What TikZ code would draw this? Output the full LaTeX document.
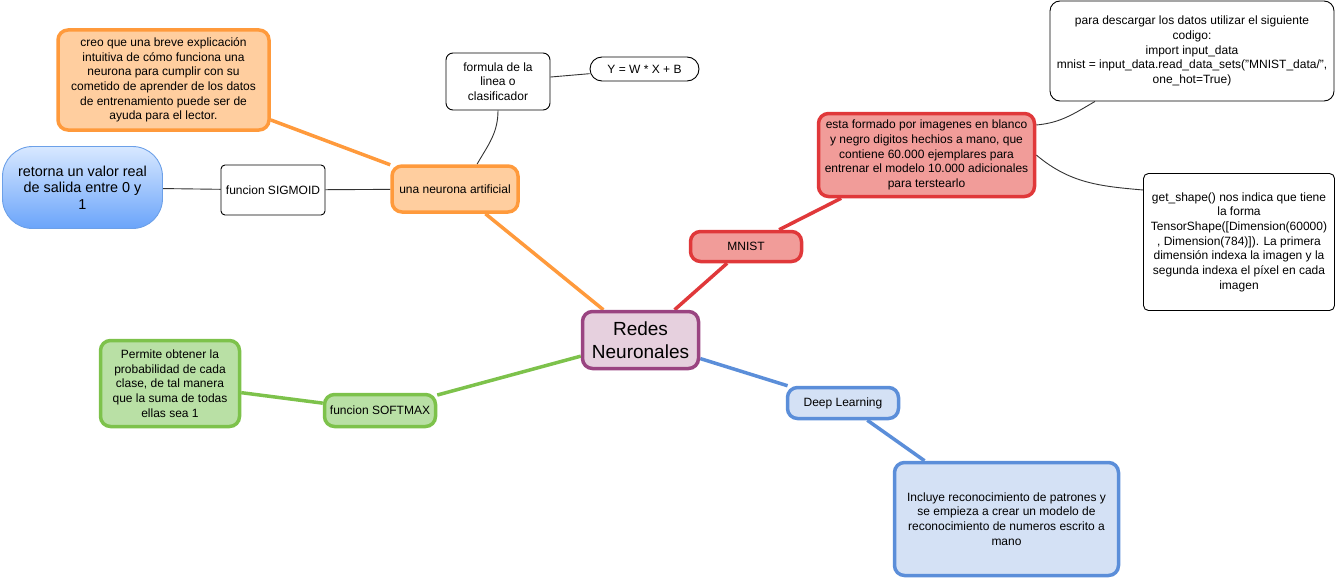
\documentclass[tikz,border=0pt]{standalone}
\usepackage{fontspec}
\setmainfont{Liberation Sans}
\definecolor{orfill}{HTML}{FFCE9F}
\definecolor{ordraw}{HTML}{FF9A3C}
\definecolor{rdfill}{HTML}{F19C99}
\definecolor{rddraw}{HTML}{E0383A}
\definecolor{pufill}{HTML}{E6D0DE}
\definecolor{pudraw}{HTML}{9A4481}
\definecolor{grfill}{HTML}{B9E0A5}
\definecolor{grdraw}{HTML}{7DC24B}
\definecolor{blfill}{HTML}{D4E1F5}
\definecolor{bldraw}{HTML}{5B8ED9}
\definecolor{gtop}{HTML}{D8E8FF}
\definecolor{gbot}{HTML}{6AA4FA}
\definecolor{gdraw}{HTML}{6CA0E8}
\definecolor{thin}{HTML}{333333}
\pgfdeclarelayer{background}
\pgfsetlayers{background,main}
\tikzset{
  base/.style={align=center, inner sep=1pt, text=black, font=\fontsize{12}{14.7}\selectfont},
  colbox/.style={base, line width=3.5pt, rounded corners=10pt},
  orbox/.style={colbox, draw=ordraw, fill=orfill},
  rdbox/.style={colbox, draw=rddraw, fill=rdfill},
  grbox/.style={colbox, draw=grdraw, fill=grfill},
  blbox/.style={colbox, draw=bldraw, fill=blfill},
  thinbox/.style={base, draw=black, line width=0.9pt, rounded corners=7pt, fill=white},
  sz/.style 2 args={minimum width=#1pt, minimum height=#2pt},
  orline/.style={draw=ordraw, line width=3.5pt},
  rdline/.style={draw=rddraw, line width=3.5pt},
  grline/.style={draw=grdraw, line width=3.5pt},
  blline/.style={draw=bldraw, line width=3.5pt},
  thinline/.style={draw=thin, line width=0.9pt},
}
\begin{document}
\begin{tikzpicture}[x=1pt,y=1pt]
\useasboundingbox (0,0) rectangle (1336,-578);

% central
\node[colbox, draw=pudraw, fill=pufill, sz={116}{57}, font=\fontsize{19}{23}\selectfont] (redes) at (640.5,-340) {Redes\\Neuronales};

% orange branch
\node[orbox, sz={126}{46}] (neurona) at (455,-189) {una neurona artificial};
\node[orbox, sz={211}{100}] (creo) at (163.5,-80) {creo que una breve explicación\\intuitiva de cómo funciona una\\neurona para cumplir con su\\cometido de aprender de los datos\\de entrenamiento puede ser de\\ayuda para el lector.};
\node[thinbox, sz={104}{50}, rounded corners=4pt] (sigmoid) at (273,-190) {funcion SIGMOID};
\node[base, draw=gdraw, line width=0.9pt, top color=gtop, bottom color=gbot, rounded corners=30pt, sz={160}{82}, font=\fontsize{14.4}{16.6}\selectfont] (retorna) at (82.5,-187.5) {retorna un valor real\\de salida entre 0 y\\1};
\node[thinbox, sz={104}{57}] (formula) at (498,-81.5) {formula de la\\linea o\\clasificador};
\node[thinbox, sz={109}{24}, rounded corners=12pt] (ecuacion) at (644.5,-69) {Y = W * X + B};

% red branch
\node[rdbox, sz={111}{30}] (mnist) at (746,-246.5) {MNIST};
\node[rdbox, sz={216}{83}] (esta) at (926.5,-155) {esta formado por imagenes en blanco\\y negro digitos hechios a mano, que\\contiene 60.000 ejemplares para\\entrenar el modelo 10.000 adicionales\\para terstearlo};
\node[thinbox, sz={284}{100}, rounded corners=10pt] (para) at (1192,-51) {para descargar los datos utilizar el siguiente\\codigo:\\import input\_data\\mnist = input\_data.read\_data\_sets("MNIST\_data/",\\one\_hot=True)};
\node[thinbox, sz={191}{137}, rounded corners=5pt] (shape) at (1239,-242) {get\_shape() nos indica que tiene\\la forma\\TensorShape([Dimension(60000)\\, Dimension(784)]). La primera\\dimensión indexa la imagen y la\\segunda indexa el píxel en cada\\imagen};

% green branch
\node[grbox, sz={111}{32}] (softmax) at (380,-410.5) {funcion SOFTMAX};
\node[grbox, sz={139}{86}] (permite) at (170,-383.5) {Permite obtener la\\probabilidad de cada\\clase, de tal manera\\que la suma de todas\\ellas sea 1};

% blue branch
\node[blbox, sz={111}{31}] (deep) at (843,-403) {Deep Learning};
\node[blbox, sz={224}{113}] (incluye) at (1006.5,-519) {Incluye reconocimiento de patrones y\\se empieza a crear un modelo de\\reconocimiento de numeros escrito a\\mano};

\begin{pgfonlayer}{background}
\draw[orline] (redes) -- (neurona);
\draw[orline] (neurona) -- (creo);
\draw[thinline] (neurona) -- (sigmoid);
\draw[thinline] (sigmoid) -- (retorna);
\draw[thinline] (formula.south) to[out=-90,in=60] ([xshift=22pt]neurona.north);
\draw[thinline] (formula) -- (ecuacion);
\draw[rdline] (redes) -- (mnist);
\draw[rdline] (mnist) -- (esta);
\draw[thinline] ([yshift=30pt]esta.east) to[out=5,in=-150] ([xshift=-97pt]para.south);
\draw[thinline] (esta.east) to[out=-40,in=175] ([yshift=52pt]shape.west);
\draw[grline] (redes) -- (softmax);
\draw[grline] (softmax) -- (permite);
\draw[blline] (redes) -- (deep);
\draw[blline] (deep) -- (incluye);
\end{pgfonlayer}
\end{tikzpicture}
\end{document}
